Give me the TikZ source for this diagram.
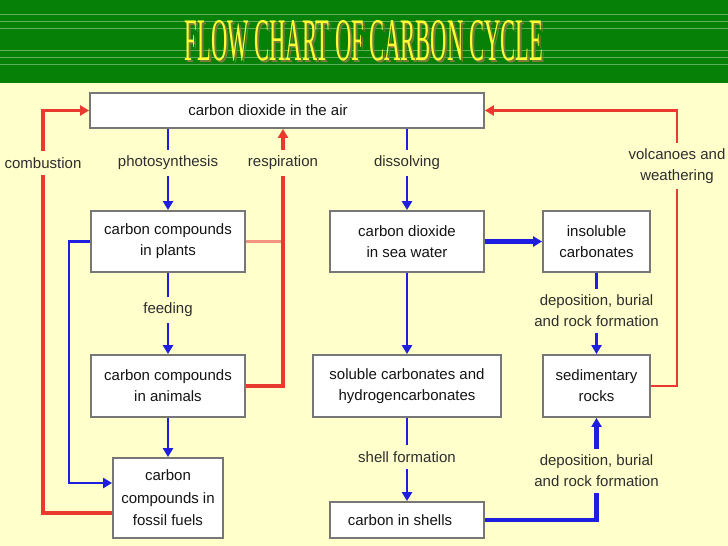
\documentclass[tikz,border=0pt]{standalone}
\usepackage{fontspec}
\setmainfont{Liberation Sans}
\newfontfamily\titlefont{Liberation Serif}
\usetikzlibrary{arrows.meta}
\definecolor{bg}{HTML}{FFFFCC}
\definecolor{band}{HTML}{078007}
\definecolor{stripe}{HTML}{5FAE5F}
\definecolor{ttl}{HTML}{FFFF33}
\definecolor{ttlsh}{HTML}{7A7A3A}
\definecolor{flowblue}{HTML}{1E1EE0}
\definecolor{flowred}{HTML}{E83A2E}
\definecolor{flowsalmon}{HTML}{F2947E}
\definecolor{boxline}{HTML}{777777}
\definecolor{txt}{HTML}{141414}
\definecolor{lbl}{HTML}{2E2E2E}
\newcommand{\titletext}{\resizebox{358pt}{40pt}{\titlefont FLOW CHART OF CARBON CYCLE}}
\begin{document}
\begin{tikzpicture}[x=1pt,y=-1pt,
  box/.style={draw=boxline, line width=1.8pt, fill=white, inner sep=0pt, align=center,
    text=txt, font=\fontsize{15}{21}\selectfont},
  lab/.style={fill=bg, text=lbl, align=center, inner xsep=2pt, inner ysep=6pt,
    font=\fontsize{15}{21}\selectfont},
  tip/.style={-{Triangle[length=9pt,width=10pt]}},
  bflow/.style={draw=flowblue, line width=2.8pt},
  bthick/.style={draw=flowblue, line width=4.2pt},
  rflow/.style={draw=flowred, line width=3.2pt},
  rthin/.style={draw=flowred, line width=2.4pt},
  sflow/.style={draw=flowsalmon, line width=3pt},
  stripeline/.style={draw=stripe, line width=0.8pt}
]
\useasboundingbox (0,0) rectangle (728,546);
\fill[bg] (0,0) rectangle (728,546);
\fill[band] (0,0) rectangle (728,83);
\foreach \yy in {14,21,28,50,57,64} \draw[stripeline] (0,\yy) -- (728,\yy);
% title with its shadow
\node[inner sep=0pt] (title) at (364,42)
  {\makebox[0pt][l]{\hspace*{2pt}\raisebox{-2pt}{\color{ttlsh}\titletext}}\color{ttl}\titletext};

% boxes
\node[box, minimum width=394pt, minimum height=35pt] (air) at (287,110.5)
  {carbon dioxide in the air\hspace*{38pt}};
\node[box, minimum width=154pt, minimum height=61pt] (plants) at (168,241.5)
  {carbon compounds\\in plants};
\node[box, minimum width=154pt, minimum height=62pt] (animals) at (168,386)
  {carbon compounds\\in animals};
\node[box, minimum width=110pt, minimum height=80pt, font=\fontsize{15}{22.5}\selectfont] (fossil) at (168,498)
  {carbon\\compounds in\\fossil fuels};
\node[box, minimum width=154pt, minimum height=61pt] (sea) at (407,241.5)
  {carbon dioxide\\in sea water};
\node[box, minimum width=107pt, minimum height=61pt] (insol) at (596.5,241.5)
  {insoluble\\carbonates};
\node[box, minimum width=188pt, minimum height=62pt] (soluble) at (407,386)
  {soluble carbonates and\\hydrogencarbonates};
\node[box, minimum width=107pt, minimum height=62pt] (sedim) at (596.5,386)
  {sedimentary\\rocks};
\node[box, minimum width=154pt, minimum height=36pt] (shells) at (407,520)
  {carbon in shells\hspace*{14pt}};

% helper coordinates
\coordinate (bl) at (69,483);
\coordinate (cb) at (43,513);
\coordinate (rs) at (283,387);
\coordinate (vw) at (677,387);

% blue flows
\draw[bflow, tip] (plants.north |- air.south) -- (plants.north);
\draw[bflow, tip] (plants.south) -- (animals.north);
\draw[bflow, tip] (animals.south) -- (fossil.north);
\draw[bflow, tip] (plants.west) -| (bl) -- (bl -| fossil.west);
\draw[bflow, tip] (sea.north |- air.south) -- (sea.north);
\draw[bthick, tip] (sea.east) -- (insol.west);
\draw[bflow, tip] (sea.south) -- (soluble.north);
\draw[bflow, tip] (insol.south) -- (sedim.north);
\draw[bflow, tip] (soluble.south) -- (shells.north);
\draw[bthick, tip] (shells.east) -| (sedim.south);

% red flows
\draw[rflow, tip] (cb -| fossil.west) -- (cb) |- (air.west);
\draw[sflow] (plants.east) -- (plants.east -| rs);
\draw[rflow, tip] (animals.east) -- (animals.east -| rs) -- (rs |- air.south);
\draw[rthin, tip] (sedim.east) -- (sedim.east -| vw) |- (air.east);

% labels
\node[lab] (lcomb) at (43,163) {combustion};
\node[lab] (lphoto) at (168,163) {photosynthesis};
\node[lab] (lresp) at (283,163) {respiration};
\node[lab] (ldiss) at (407,163) {dissolving};
\node[lab] (lvolc) at (677,166) {volcanoes and\\weathering};
\node[lab] (lfeed) at (168,310) {feeding};
\node[lab] (ldep1) at (596.5,311) {deposition, burial\\and rock formation};
\node[lab] (lshell) at (407,457) {shell formation};
\node[lab] (ldep2) at (596.5,471) {deposition, burial\\and rock formation};
\end{tikzpicture}
\end{document}
